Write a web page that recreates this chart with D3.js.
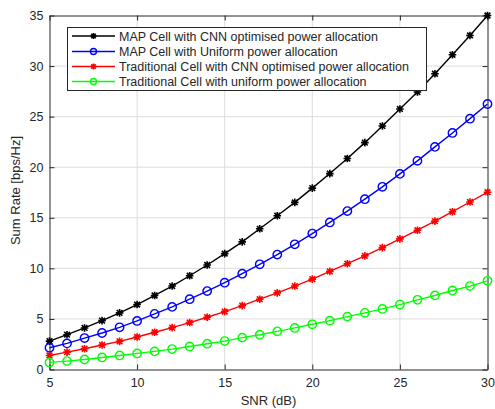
<!DOCTYPE html>
<html>
<head>
<meta charset="utf-8">
<script src="https://cdn.jsdelivr.net/npm/d3@7"></script>
<style>
  html, body { margin: 0; padding: 0; background: #fff; }
  svg { display: block; font-family: "Liberation Sans", Arial, sans-serif; }
</style>
</head>
<body>
<svg id="chart" width="495" height="409"></svg>
<script>
// SNR sweep (dB)
const snr = d3.range(5, 31);

// Sum rate [bps/Hz] for each scheme
const mapCnn = [2.81, 3.44, 4.11, 4.83, 5.60, 6.42, 7.32, 8.25, 9.27, 10.33, 11.46, 12.62, 13.91, 15.20, 16.52,
                17.93, 19.37, 20.86, 22.43, 24.08, 25.76, 27.43, 29.24, 31.12, 33.03, 35.00];
const mapUniform = [2.15, 2.58, 3.11, 3.61, 4.17, 4.80, 5.50, 6.19, 6.95, 7.75, 8.58, 9.47, 10.40, 11.36, 12.38,
                    13.44, 14.54, 15.66, 16.84, 18.06, 19.34, 20.63, 22.01, 23.39, 24.80, 26.25];
const tradCnn = [1.39, 1.72, 2.05, 2.42, 2.78, 3.21, 3.68, 4.14, 4.64, 5.17, 5.73, 6.32, 6.95, 7.58, 8.25,
                 8.94, 9.70, 10.46, 11.23, 12.05, 12.91, 13.77, 14.67, 15.60, 16.56, 17.53];
const tradUniform = [0.70, 0.83, 0.99, 1.19, 1.39, 1.59, 1.79, 2.02, 2.28, 2.55, 2.81, 3.15, 3.44, 3.77, 4.11,
                     4.47, 4.83, 5.23, 5.60, 5.99, 6.42, 6.89, 7.32, 7.81, 8.25, 8.77];

const seriesNames = [
  "MAP Cell with CNN optimised power allocation",
  "MAP Cell with Uniform power allocation",
  "Traditional Cell with CNN optimised power allocation",
  "Traditional Cell with uniform power allocation"
];
const seriesColors = ["#000000", "#0000ff", "#ff0000", "#00ff00"];
const seriesMarkers = ["star", "circle", "star", "circle"];
const seriesValues = [mapCnn, mapUniform, tradCnn, tradUniform];

const xTicks = [5, 10, 15, 20, 25, 30];
const yTicks = [0, 5, 10, 15, 20, 25, 30, 35];

const svg = d3.select("#chart");
const plotLeft = 49.5, plotRight = 487.5, plotTop = 15.5, plotBottom = 369.5;

const x = d3.scaleLinear().domain([5, 30]).range([plotLeft, plotRight]);
const y = d3.scaleLinear().domain([0, 35]).range([plotBottom, plotTop]);

const axisColor = "#262626";

// grid
const grid = svg.append("g");
grid.selectAll("line.vx").data(xTicks.slice(1, -1)).join("line")
  .attr("x1", d => x(d)).attr("x2", d => x(d))
  .attr("y1", plotTop).attr("y2", plotBottom)
  .attr("stroke", "#dcdcdc").attr("stroke-width", 1);
grid.selectAll("line.hy").data(yTicks.slice(1, -1)).join("line")
  .attr("x1", plotLeft).attr("x2", plotRight)
  .attr("y1", d => y(d)).attr("y2", d => y(d))
  .attr("stroke", "#dcdcdc").attr("stroke-width", 1);

// axes (ticks point inward)
const xAxis = svg.append("g").attr("transform", `translate(0,${plotBottom})`)
  .call(d3.axisBottom(x).tickValues(xTicks).tickSize(-5).tickPadding(9).tickSizeOuter(0));
const yAxis = svg.append("g").attr("transform", `translate(${plotLeft},0)`)
  .call(d3.axisLeft(y).tickValues(yTicks).tickSize(-5).tickPadding(6).tickSizeOuter(0));
const xTop = svg.append("g").attr("transform", `translate(0,${plotTop})`)
  .call(d3.axisTop(x).tickValues(xTicks).tickSize(-5).tickFormat("").tickSizeOuter(0));
const yRight = svg.append("g").attr("transform", `translate(${plotRight},0)`)
  .call(d3.axisRight(y).tickValues(yTicks).tickSize(-5).tickFormat("").tickSizeOuter(0));

[xAxis, yAxis, xTop, yRight].forEach(g => {
  g.select(".domain").attr("stroke", axisColor).attr("stroke-width", 1);
  g.selectAll(".tick line").attr("stroke", axisColor);
  g.selectAll(".tick text").attr("fill", axisColor)
    .style("font-family", "'Liberation Sans', Arial, sans-serif").style("font-size", "12.5px");
});

// axis titles
svg.append("text")
  .attr("x", (plotLeft + plotRight) / 2).attr("y", 405)
  .attr("text-anchor", "middle").attr("fill", axisColor)
  .style("font-size", "13px").text("SNR (dB)");
svg.append("text")
  .attr("transform", `translate(20,190.5) rotate(-90)`)
  .attr("text-anchor", "middle").attr("fill", axisColor)
  .style("font-size", "13px").text("Sum Rate [bps/Hz]");

// marker drawing
function drawMarker(g, type, color, size) {
  if (type === "circle") {
    g.append("circle").attr("r", size).attr("fill", "none")
      .attr("stroke", color).attr("stroke-width", 1.4);
  } else {
    const s = size, d = size * 0.75;
    const p = `M${-s},0L${s},0M0,${-s}L0,${s}M${-d},${-d}L${d},${d}M${-d},${d}L${d},${-d}`;
    g.append("path").attr("d", p).attr("stroke", color).attr("stroke-width", 1.6).attr("fill", "none");
  }
}

const line = d3.line().x(d => x(d[0])).y(d => y(d[1]));

const plot = svg.append("g");
seriesValues.forEach((vals, i) => {
  const pts = snr.map((s, j) => [s, vals[j]]);
  plot.append("path").datum(pts).attr("d", line)
    .attr("fill", "none").attr("stroke", seriesColors[i]).attr("stroke-width", 1.4);
  pts.forEach(p => {
    const m = plot.append("g").attr("transform", `translate(${x(p[0])},${y(p[1])})`);
    drawMarker(m, seriesMarkers[i], seriesColors[i], seriesMarkers[i] === "circle" ? 4.2 : 3.8);
  });
});

// legend
const lg = svg.append("g");
lg.append("rect").attr("x", 67.5).attr("y", 27.5).attr("width", 359).attr("height", 63)
  .attr("fill", "#fff").attr("stroke", axisColor).attr("stroke-width", 1);
const rowY = [36, 51.5, 66.5, 81.5];
seriesNames.forEach((name, i) => {
  lg.append("line").attr("x1", 72).attr("x2", 115).attr("y1", rowY[i]).attr("y2", rowY[i])
    .attr("stroke", seriesColors[i]).attr("stroke-width", 1.4);
  const m = lg.append("g").attr("transform", `translate(93.5,${rowY[i]})`);
  drawMarker(m, seriesMarkers[i], seriesColors[i], 3);
  lg.append("text").attr("x", 119).attr("y", rowY[i] + 4.5).attr("fill", axisColor)
    .style("font-size", "12.5px").text(name);
});
</script>
</body>
</html>
